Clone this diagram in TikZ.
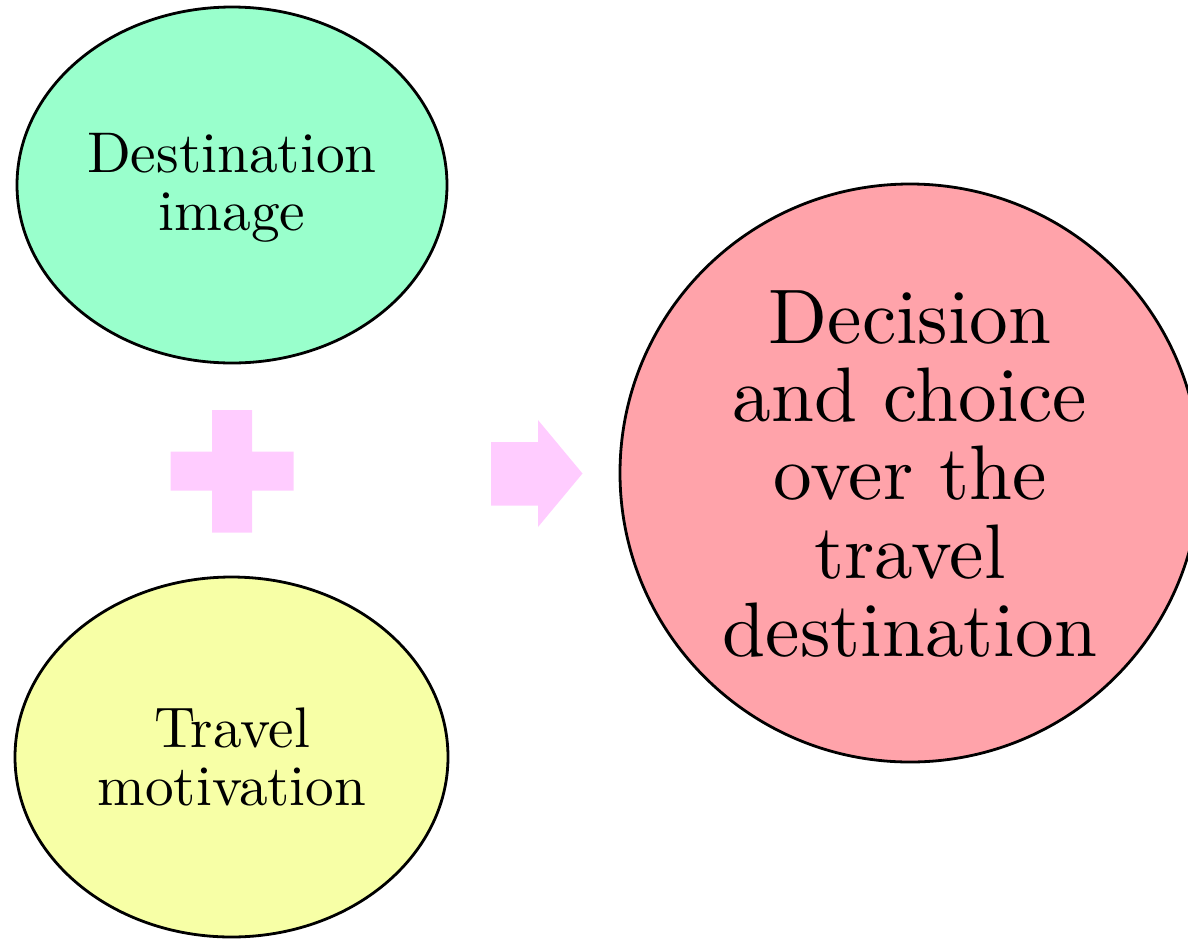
\documentclass[tikz,border=0pt]{standalone}
\usetikzlibrary{shapes.geometric}
\definecolor{imggreen}{HTML}{99FFCC}
\definecolor{motyellow}{HTML}{F7FFA6}
\definecolor{decpink}{HTML}{FFA3AA}
\definecolor{signpink}{HTML}{FFCCFF}
\tikzset{
  bubble/.style={ellipse, draw=black, line width=2.8pt, inner sep=0pt},
  lbl/.style={align=center, font=\fontsize{10}{10.1}\selectfont, inner sep=0pt},
  sign/.style={fill=signpink, draw=none}
}
\begin{document}
\begin{tikzpicture}[x=1pt, y=-1pt]
  \useasboundingbox (0,0) rectangle (1188,938);
  \clip (0,0) rectangle (1188,938);

  % the two inputs
  \node[bubble, fill=imggreen, minimum width=430pt, minimum height=356pt] (img) at (232,185) {};
  \node[lbl, scale=5.74] (imgtext) at (232,188) {Destination\\image};

  \node[bubble, fill=motyellow, minimum width=433pt, minimum height=360pt] (mot) at (231.5,757) {};
  \node[lbl, scale=5.72] (mottext) at (232,757) {Travel\\motivation};

  % the outcome
  \node[bubble, fill=decpink, minimum width=580pt, minimum height=578pt] (dec) at (910,473) {};
  \node[lbl, scale=7.73] (dectext) at (910,474) {Decision\\and choice\\over the\\travel\\destination};

  % plus sign between the inputs
  \fill[sign] (212,410) -- (252,410) -- (252,451.5) -- (293.5,451.5) -- (293.5,490.5)
    -- (252,490.5) -- (252,532.5) -- (212,532.5) -- (212,490.5) -- (170.5,490.5)
    -- (170.5,451.5) -- (212,451.5) -- cycle;

  % arrow towards the outcome
  \fill[sign] (491,442) -- (538,442) -- (538,420) -- (582.5,473.5) -- (538,527)
    -- (538,505.5) -- (491,505.5) -- cycle;
\end{tikzpicture}
\end{document}
